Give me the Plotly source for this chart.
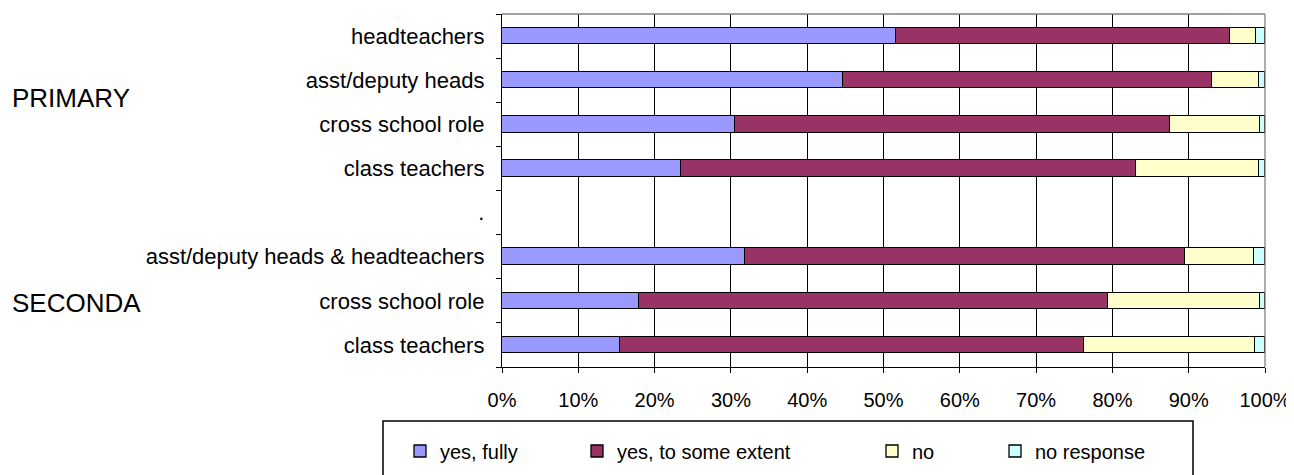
import plotly.graph_objects as go

# ---- data ----
categories = ["headteachers", "asst/deputy heads", "cross school role", "class teachers",
              ".", "asst/deputy heads & headteachers", "cross school role", "class teachers"]
series_names = ["yes, fully", "yes, to some extent", "no", "no response"]
yes_fully = [51.6, 44.7, 30.5, 23.4, None, 31.8, 17.9, 15.5]
yes_some = [43.8, 48.4, 57.1, 59.7, None, 57.7, 61.5, 60.8]
no = [3.4, 6.1, 11.7, 16.1, None, 9.1, 19.9, 22.4]
no_response = [1.2, 0.8, 0.7, 0.8, None, 1.4, 0.7, 1.3]
x_ticks = [0, 10, 20, 30, 40, 50, 60, 70, 80, 90, 100]
x_tick_labels = [f"{v}%" for v in x_ticks]
group_labels = ["PRIMARY", "SECONDA"]

colors = ["#9999FF", "#993366", "#FFFFCC", "#CCFFFF"]
FONT = "Arial, Liberation Sans, sans-serif"

# page offset (browser body margin)
OFF = 8
PAGE_W, PAGE_H = 1294, 475
PLOT_L, PLOT_R, PLOT_T, PLOT_B = 502, 1265, 14, 367   # page pixels of plot area
W, H = PAGE_W - OFF, PAGE_H - OFF
L, R, T, B = PLOT_L - OFF, PAGE_W - PLOT_R, PLOT_T - OFF, PAGE_H - PLOT_B
pw = PLOT_R - PLOT_L
ph = PLOT_B - PLOT_T


def px2x(px):
    return (px - PLOT_L) / pw


def py2y(py):
    return (PLOT_B - py) / ph


ypos = list(range(len(categories)))
fig = go.Figure()
values = [yes_fully, yes_some, no, no_response]
legend_ids = ["legend", "legend2", "legend3", "legend4"]
for name, vals, col, lid in zip(series_names, values, colors, legend_ids):
    fig.add_trace(go.Bar(
        y=ypos, x=vals, name=name, orientation="h",
        marker=dict(color=col, line=dict(color="black", width=1.3)),
        width=0.375, legend=lid, hoverinfo="x+name",
    ))

legend_left_px = [400, 577, 872, 995]
leg_y = py2y(451)
legend_common = dict(font=dict(family=FONT, size=20, color="black"),
                     bgcolor="rgba(0,0,0,0)", borderwidth=0,
                     yanchor="middle", xanchor="left", orientation="h")
layout_legends = {}
for lid, lx in zip(legend_ids, legend_left_px):
    layout_legends[lid] = dict(x=px2x(lx), y=leg_y, **legend_common)

fig.update_layout(
    width=W, height=H,
    margin=dict(l=L, r=R, t=T, b=B, autoexpand=False),
    paper_bgcolor="white", plot_bgcolor="white",
    barmode="stack", bargap=0,
    font=dict(family=FONT, size=21, color="black"),
    showlegend=True,
    xaxis=dict(
        range=[0, 100], tickmode="array", tickvals=x_ticks, ticktext=x_tick_labels,
        showgrid=True, gridcolor="black", gridwidth=1.3,
        showline=True, linecolor="black", linewidth=1.3,
        ticks="outside", ticklen=5, tickcolor="black", tickwidth=1.3,
        ticklabelstandoff=10, zeroline=False, fixedrange=True,
        tickfont=dict(family=FONT, size=20, color="black"),
    ),
    yaxis=dict(
        range=[len(categories) - 0.5, -0.5],
        tickmode="array", tickvals=ypos, ticktext=categories,
        ticks="", showgrid=False, zeroline=False,
        showline=True, linecolor="black", linewidth=1.3,
        ticklabelstandoff=12, fixedrange=True,
        tickfont=dict(family=FONT, size=22, color="black"),
        minor=dict(tickmode="linear", tick0=-0.5, dtick=1, ticks="outside",
                   ticklen=5, tickcolor="black", tickwidth=1.3, showgrid=False),
    ),
    **layout_legends,
)

# plot-area border (top and right, grey)
fig.add_shape(type="line", xref="paper", yref="paper", x0=0, x1=1, y0=1, y1=1,
              line=dict(color="#808080", width=1.3))
fig.add_shape(type="line", xref="paper", yref="paper", x0=1, x1=1, y0=0, y1=1,
              line=dict(color="#808080", width=1.3))
# legend box
fig.add_shape(type="rect", xref="paper", yref="paper",
              x0=px2x(383), x1=px2x(1193), y0=py2y(421), y1=py2y(485),
              line=dict(color="black", width=1.5), fillcolor="rgba(0,0,0,0)")

# group labels
for lab, gy in zip(group_labels, [98, 303]):
    fig.add_annotation(text=lab, xref="paper", yref="paper", x=px2x(10), y=py2y(gy),
                       xanchor="left", yanchor="middle", showarrow=False,
                       font=dict(family=FONT, size=26, color="black"))

fig.write_html("out.html")
